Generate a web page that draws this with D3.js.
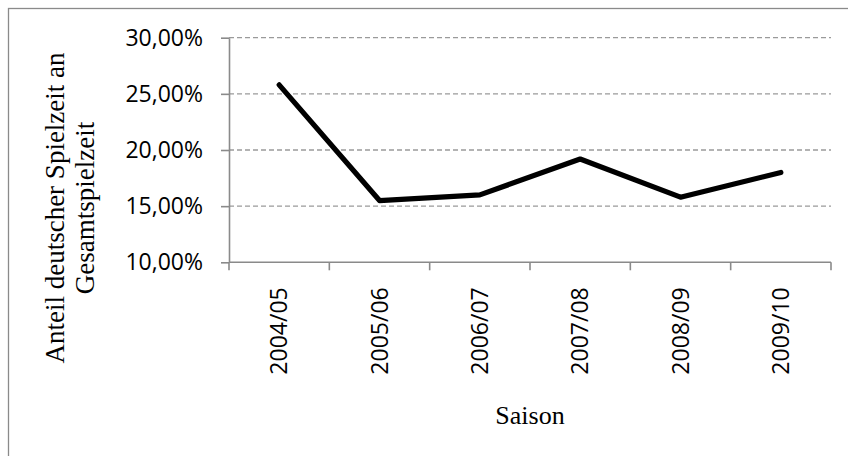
<!DOCTYPE html>
<html>
<head>
<meta charset="utf-8">
<script src="https://cdn.jsdelivr.net/npm/d3@7"></script>
<style>
  html, body { margin: 0; padding: 0; background: #fff; }
  svg { display: block; }
</style>
</head>
<body>
<svg id="chart" width="848" height="456"></svg>
<script>
const categories = ["2004/05", "2005/06", "2006/07", "2007/08", "2008/09", "2009/10"];
const shareValues = [0.258, 0.155, 0.160, 0.192, 0.158, 0.180];
const yTickValues = [0.10, 0.15, 0.20, 0.25, 0.30];
const yTitleLines = ["Anteil deutscher Spielzeit an", "Gesamtspielzeit"];
const xTitle = "Saison";

const svg = d3.select("#chart");
const plot = { left: 229, right: 831, top: 37.7, bottom: 262.3 };

// outer frame (only top/left visible)
svg.append("rect")
  .attr("x", 8.5).attr("y", 8.5).attr("width", 1000).attr("height", 1000)
  .attr("fill", "none").attr("stroke", "#8a8a8a").attr("stroke-width", 1.3);

const x = d3.scaleBand().domain(categories).range([plot.left, plot.right]).paddingInner(0).paddingOuter(0);
const y = d3.scaleLinear().domain([0.10, 0.30]).range([plot.bottom, plot.top]);

const fmt = v => d3.format(".2f")(v * 100).replace(".", ",") + "%";

// gridlines
svg.append("g").selectAll("line").data(yTickValues.filter(v => v > 0.10)).join("line")
  .attr("x1", plot.left).attr("x2", plot.right)
  .attr("y1", d => y(d)).attr("y2", d => y(d))
  .attr("stroke", "#9a9a9a").attr("stroke-width", 1.3)
  .attr("stroke-dasharray", "5,3");

// y axis
const yAxis = d3.axisLeft(y).tickValues(yTickValues).tickFormat(fmt).tickSizeInner(8).tickSizeOuter(0).tickPadding(18);
const gy = svg.append("g").attr("transform", `translate(${plot.left},0)`).call(yAxis);
gy.select(".domain").attr("stroke", "#8a8a8a").attr("stroke-width", 1.6);
gy.selectAll(".tick line").attr("stroke", "#8a8a8a").attr("stroke-width", 1.6);
gy.selectAll(".tick text").attr("font-family", "'Open Sans', sans-serif").attr("font-size", 23).attr("fill", "#000");

// x axis
const gx = svg.append("g").attr("transform", `translate(0,${plot.bottom})`);
gx.append("line").attr("x1", plot.left).attr("x2", plot.right).attr("y1", 0).attr("y2", 0)
  .attr("stroke", "#8a8a8a").attr("stroke-width", 1.6);
const boundaries = categories.map(c => x(c)).concat([x(categories[categories.length - 1]) + x.bandwidth()]);
gx.selectAll("line.tk").data(boundaries).join("line").attr("class", "tk")
  .attr("x1", d => d).attr("x2", d => d).attr("y1", 0).attr("y2", 8)
  .attr("stroke", "#8a8a8a").attr("stroke-width", 1.6);
gx.selectAll("text").data(categories).join("text")
  .attr("transform", d => `translate(${x(d) + x.bandwidth() / 2},25) rotate(-90)`)
  .attr("text-anchor", "end").attr("dy", "0.36em")
  .attr("font-family", "'Open Sans', sans-serif").attr("font-size", 23).attr("fill", "#000")
  .text(d => d);

// line
const line = d3.line()
  .x((d, i) => x(categories[i]) + x.bandwidth() / 2)
  .y(d => y(d));
svg.append("path").datum(shareValues)
  .attr("d", line).attr("fill", "none").attr("stroke", "#000")
  .attr("stroke-width", 5.2).attr("stroke-linejoin", "round").attr("stroke-linecap", "round");

// titles
svg.append("text")
  .attr("x", (plot.left + plot.right) / 2).attr("y", 424)
  .attr("text-anchor", "middle")
  .attr("font-family", "'Liberation Serif', 'Times New Roman', serif").attr("font-size", 26).attr("fill", "#000")
  .text(xTitle);

const yt = svg.append("text")
  .attr("transform", "translate(55,208) rotate(-90)")
  .attr("text-anchor", "middle")
  .attr("font-family", "'Liberation Serif', 'Times New Roman', serif").attr("font-size", 27).attr("fill", "#000");
yt.selectAll("tspan").data(yTitleLines).join("tspan")
  .attr("x", 0).attr("dy", (d, i) => i === 0 ? "0.35em" : "1.1em")
  .text(d => d);
</script>
</body>
</html>
